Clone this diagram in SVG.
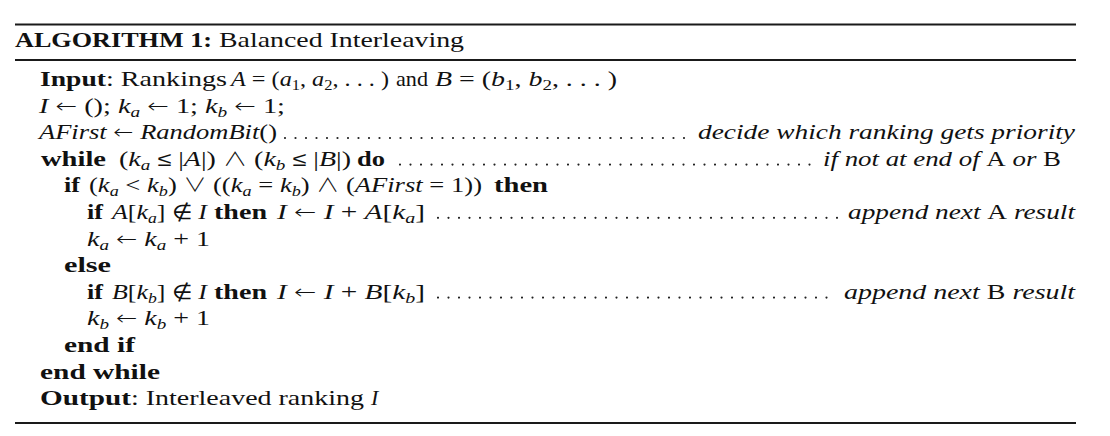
<svg xmlns="http://www.w3.org/2000/svg" width="1110" height="436" viewBox="0 0 1110 436">
<style>
.t{font-family:"Liberation Serif","DejaVu Serif",serif;font-size:22px;fill:#111;}
.b{font-weight:bold;}
.i{font-style:italic;}
.n{font-style:normal;}
.s{font-size:15px;}
.y{font-family:"DejaVu Sans",sans-serif;font-weight:200;font-style:normal;font-size:20px;}
.w{font-family:"Noto Sans CJK JP","DejaVu Sans",sans-serif;font-weight:300;font-style:normal;font-size:19px;}
.rule{stroke:#1a1a1a;stroke-width:2;}
.dots{stroke:#222;stroke-width:2.2;stroke-linecap:round;stroke-dasharray:0 10.5;fill:none;}
</style>
<rect width="1110" height="436" fill="#fff"/>
<g id="rules">
<line class="rule" x1="15" y1="24.5" x2="1076" y2="24.5"/>
<line class="rule" x1="15" y1="60" x2="1076" y2="60"/>
<line class="rule" x1="15" y1="423" x2="1076" y2="423"/>
</g>
<g id="title">
<text class="t b" x="15" y="47" textLength="197" lengthAdjust="spacingAndGlyphs">ALGORITHM 1:</text>
<text class="t" x="219" y="47" textLength="245" lengthAdjust="spacingAndGlyphs">Balanced Interleaving</text>
</g>
<g id="input">
<text class="t b" x="40" y="86" textLength="66" lengthAdjust="spacingAndGlyphs">Input</text>
<text class="t" x="106" y="86" textLength="121" lengthAdjust="spacingAndGlyphs">: Rankings</text>
<text class="t" x="231" y="86" textLength="158" lengthAdjust="spacingAndGlyphs"><tspan class="i">A</tspan> = (<tspan class="i">a</tspan><tspan class="s" dy="4">1</tspan><tspan dy="-4">, </tspan><tspan class="i">a</tspan><tspan class="s" dy="4">2</tspan><tspan dy="-4">, . . . )</tspan></text>
<text class="t" x="396" y="86" textLength="32" lengthAdjust="spacingAndGlyphs">and</text>
<text class="t" x="435" y="86" textLength="182" lengthAdjust="spacingAndGlyphs"><tspan class="i">B</tspan> = (<tspan class="i">b</tspan><tspan class="s" dy="4">1</tspan><tspan dy="-4">, </tspan><tspan class="i">b</tspan><tspan class="s" dy="4">2</tspan><tspan dy="-4">, . . . )</tspan></text>
</g>
<g id="init">
<text class="t" x="39" y="112.6" textLength="246" lengthAdjust="spacingAndGlyphs"><tspan class="i">I</tspan> <tspan class="y">←</tspan> (); <tspan class="i">k</tspan><tspan class="s i" dy="4">a</tspan><tspan dy="-4"> </tspan><tspan class="y">←</tspan> 1; <tspan class="i">k</tspan><tspan class="s i" dy="4">b</tspan><tspan dy="-4"> </tspan><tspan class="y">←</tspan> 1;</text>
</g>
<g id="afirst">
<text class="t i" x="39" y="139.2" textLength="238" lengthAdjust="spacingAndGlyphs">AFirst <tspan class="y">←</tspan> RandomBit<tspan class="n">()</tspan></text>
<line class="dots" x1="285" y1="138" x2="692" y2="138"/>
<text class="t i" x="698" y="139.2" textLength="377" lengthAdjust="spacingAndGlyphs">decide which ranking gets priority</text>
</g>
<g id="while">
<text class="t b" x="41" y="165.8" textLength="65" lengthAdjust="spacingAndGlyphs">while</text>
<text class="t" x="119" y="165.8" textLength="232" lengthAdjust="spacingAndGlyphs">(<tspan class="i">k</tspan><tspan class="s i" dy="4">a</tspan><tspan dy="-4"> </tspan><tspan class="y">≤</tspan> |<tspan class="i">A</tspan>|) <tspan class="w">∧</tspan> (<tspan class="i">k</tspan><tspan class="s i" dy="4">b</tspan><tspan dy="-4"> </tspan><tspan class="y">≤</tspan> |<tspan class="i">B</tspan>|)</text>
<text class="t b" x="357" y="165.8" textLength="28" lengthAdjust="spacingAndGlyphs">do</text>
<line class="dots" x1="400" y1="164.6" x2="818" y2="164.6"/>
<text class="t i" x="823" y="165.8" textLength="238" lengthAdjust="spacingAndGlyphs">if not at end of <tspan class="n">A</tspan> or <tspan class="n">B</tspan></text>
</g>
<g id="if-cond">
<text class="t b" x="64" y="192.4" textLength="16" lengthAdjust="spacingAndGlyphs">if</text>
<text class="t" x="89" y="192.4" textLength="393" lengthAdjust="spacingAndGlyphs">(<tspan class="i">k</tspan><tspan class="s i" dy="4">a</tspan><tspan dy="-4"> &lt; </tspan><tspan class="i">k</tspan><tspan class="s i" dy="4">b</tspan><tspan dy="-4">) </tspan><tspan class="w">∨</tspan> ((<tspan class="i">k</tspan><tspan class="s i" dy="4">a</tspan><tspan dy="-4"> = </tspan><tspan class="i">k</tspan><tspan class="s i" dy="4">b</tspan><tspan dy="-4">) </tspan><tspan class="w">∧</tspan> (<tspan class="i">AFirst</tspan> = 1))</text>
<text class="t b" x="494" y="192.4" textLength="54" lengthAdjust="spacingAndGlyphs">then</text>
</g>
<g id="append-a">
<text class="t b" x="87" y="219" textLength="16" lengthAdjust="spacingAndGlyphs">if</text>
<text class="t" x="112" y="219" textLength="95" lengthAdjust="spacingAndGlyphs"><tspan class="i">A</tspan>[<tspan class="i">k</tspan><tspan class="s i" dy="4">a</tspan><tspan dy="-4">] </tspan><tspan class="y">∉</tspan> <tspan class="i">I</tspan></text>
<text class="t b" x="214" y="219" textLength="53" lengthAdjust="spacingAndGlyphs">then</text>
<text class="t" x="277" y="219" textLength="148" lengthAdjust="spacingAndGlyphs"><tspan class="i">I</tspan> <tspan class="y">←</tspan> <tspan class="i">I</tspan> + <tspan class="i">A</tspan>[<tspan class="i">k</tspan><tspan class="s i" dy="4">a</tspan><tspan dy="-4">]</tspan></text>
<line class="dots" x1="438" y1="217.8" x2="838" y2="217.8"/>
<text class="t i" x="848" y="219" textLength="227" lengthAdjust="spacingAndGlyphs">append next <tspan class="n">A</tspan> result</text>
</g>
<g id="inc-a">
<text class="t" x="87" y="245.6" textLength="123" lengthAdjust="spacingAndGlyphs"><tspan class="i">k</tspan><tspan class="s i" dy="4">a</tspan><tspan dy="-4"> </tspan><tspan class="y">←</tspan> <tspan class="i">k</tspan><tspan class="s i" dy="4">a</tspan><tspan dy="-4"> + 1</tspan></text>
</g>
<g id="else">
<text class="t b" x="64" y="272.2" textLength="47" lengthAdjust="spacingAndGlyphs">else</text>
</g>
<g id="append-b">
<text class="t b" x="87" y="298.8" textLength="16" lengthAdjust="spacingAndGlyphs">if</text>
<text class="t" x="112" y="298.8" textLength="95" lengthAdjust="spacingAndGlyphs"><tspan class="i">B</tspan>[<tspan class="i">k</tspan><tspan class="s i" dy="4">b</tspan><tspan dy="-4">] </tspan><tspan class="y">∉</tspan> <tspan class="i">I</tspan></text>
<text class="t b" x="214" y="298.8" textLength="53" lengthAdjust="spacingAndGlyphs">then</text>
<text class="t" x="277" y="298.8" textLength="148" lengthAdjust="spacingAndGlyphs"><tspan class="i">I</tspan> <tspan class="y">←</tspan> <tspan class="i">I</tspan> + <tspan class="i">B</tspan>[<tspan class="i">k</tspan><tspan class="s i" dy="4">b</tspan><tspan dy="-4">]</tspan></text>
<line class="dots" x1="438" y1="297.6" x2="836" y2="297.6"/>
<text class="t i" x="844" y="298.8" textLength="231" lengthAdjust="spacingAndGlyphs">append next <tspan class="n">B</tspan> result</text>
</g>
<g id="inc-b">
<text class="t" x="87" y="325.4" textLength="123" lengthAdjust="spacingAndGlyphs"><tspan class="i">k</tspan><tspan class="s i" dy="4">b</tspan><tspan dy="-4"> </tspan><tspan class="y">←</tspan> <tspan class="i">k</tspan><tspan class="s i" dy="4">b</tspan><tspan dy="-4"> + 1</tspan></text>
</g>
<g id="end-if">
<text class="t b" x="64" y="352" textLength="71" lengthAdjust="spacingAndGlyphs">end if</text>
</g>
<g id="end-while">
<text class="t b" x="40" y="378.6" textLength="120" lengthAdjust="spacingAndGlyphs">end while</text>
</g>
<g id="output">
<text class="t b" x="40" y="405.2" textLength="91" lengthAdjust="spacingAndGlyphs">Output</text>
<text class="t" x="131" y="405.2" textLength="233" lengthAdjust="spacingAndGlyphs">: Interleaved ranking</text>
<text class="t i" x="371" y="405.2">I</text>
</g>
</svg>
